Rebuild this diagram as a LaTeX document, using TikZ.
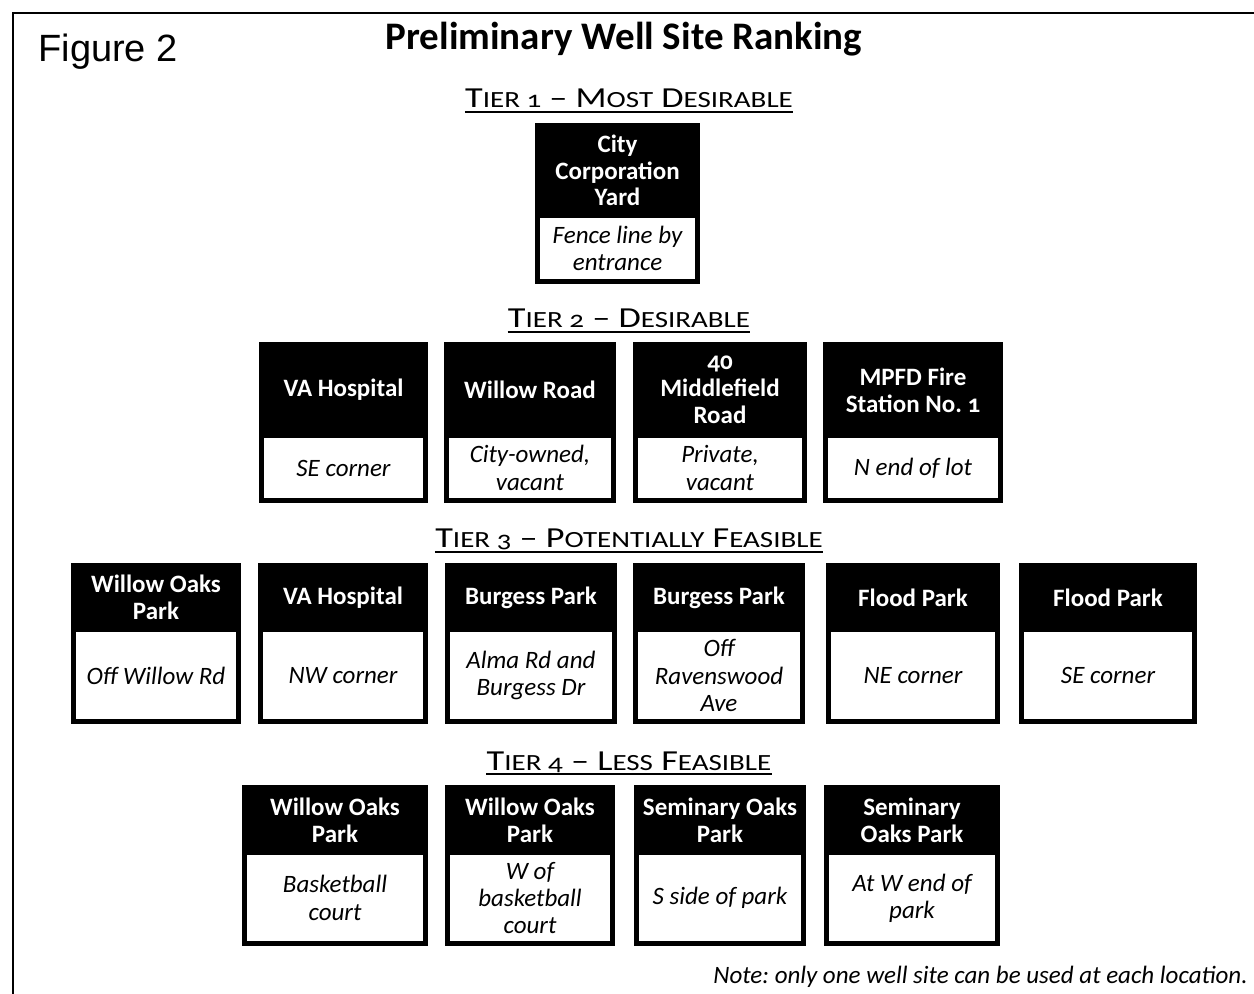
\documentclass[tikz,border=0pt]{standalone}
\usepackage{fontspec}
\usepackage{graphicx}
\setmainfont{Carlito}[Numbers=OldStyle]
\newfontfamily\figfont{Liberation Sans}
\usetikzlibrary{positioning}
\frenchspacing
\newcommand{\sml}[1]{{\fontsize{11.6}{13}\selectfont #1}}
\newcommand{\tiertext}[1]{\scalebox{1.25}[1]{#1}}
\newcommand{\siteblock}[7]{%
  \fill (#2,#4) rectangle (#3,#4+161);
  \fill[white] (#2+5,#5) rectangle (#3-5,#4+156);
  \node[sitehead] (#1h) at ({(#2+#3)/2},{(#4+#5)/2}) {#6};
  \node[sitebody] (#1b) at ({(#2+#3)/2},{(#5+#4+156)/2}) {#7};
}

\begin{document}
\begin{tikzpicture}[x=.5pt,y=-.5pt,
    sitehead/.style={text=white,align=center,inner sep=0pt,
      font=\fontsize{12.5}{13.4}\selectfont\bfseries},
    sitebody/.style={align=center,inner sep=0pt,
      font=\fontsize{12.5}{13.6}\selectfont\itshape},
    tierhead/.style={anchor=base,inner xsep=0pt,
      font=\fontsize{14.5}{16}\selectfont}]
  \useasboundingbox (0,0) rectangle (1254,994);
  \draw[line width=1.25pt] (13,994) -- (13,13) -- (1254,13);
  \node[anchor=base west,inner sep=0pt,font=\figfont\fontsize{19}{22}\selectfont] (fig) at (38,62) {Figure 2};
  \node[anchor=base,inner sep=0pt,font=\fontsize{19.5}{22}\selectfont\bfseries] (title) at (624,50) {Preliminary Well Site Ranking};
  % tier headings
  \node[tierhead] (tier1) at (629,108) {\tiertext{T\sml{IER 1} -- M\sml{OST} D\sml{ESIRABLE}}};
  \node[tierhead] (tier2) at (629,328) {\tiertext{T\sml{IER 2} -- D\sml{ESIRABLE}}};
  \node[tierhead] (tier3) at (629,548) {\tiertext{T\sml{IER 3} -- P\sml{OTENTIALLY} F\sml{EASIBLE}}};
  \node[tierhead] (tier4) at (629,770) {\tiertext{T\sml{IER 4} -- L\sml{ESS} F\sml{EASIBLE}}};
  \foreach \t in {tier1,tier2,tier3,tier4}
    \draw[line width=1pt] ([yshift=-2pt]\t.base west) -- ([yshift=-2pt]\t.base east);
  % tier 1
  \siteblock{city}{535}{700}{123}{218}{City\\Corporation\\Yard}{Fence line by\\entrance}
  % tier 2
  \siteblock{vase}{259}{428}{342}{438}{VA Hospital}{SE corner}
  \siteblock{willow}{444}{616}{342}{438}{Willow Road}{City-owned,\\vacant}
  \siteblock{middle}{633}{807}{342}{438}{40\\Middlefield\\Road}{Private,\\vacant}
  \siteblock{mpfd}{823}{1003}{342}{438}{MPFD Fire\\Station No. 1}{N end of lot}
  % tier 3
  \siteblock{woak}{71}{241}{563}{632}{Willow Oaks\\Park}{Off Willow Rd}
  \siteblock{vanw}{258}{428}{563}{632}{VA Hospital}{NW corner}
  \siteblock{alma}{445}{617}{563}{632}{Burgess Park}{Alma Rd and\\Burgess Dr}
  \siteblock{raven}{633}{805}{563}{632}{Burgess Park}{Off\\Ravenswood\\Ave}
  \siteblock{floodne}{826}{1000}{563}{632}{Flood Park}{NE corner}
  \siteblock{floodse}{1019}{1197}{563}{632}{Flood Park}{SE corner}
  % tier 4
  \siteblock{court}{242}{428}{785}{855}{Willow Oaks\\Park}{Basketball\\court}
  \siteblock{wcourt}{445}{615}{785}{855}{Willow Oaks\\Park}{W of\\basketball\\court}
  \siteblock{sside}{634}{806}{785}{855}{Seminary Oaks\\Park}{S side of park}
  \siteblock{wend}{824}{1000}{785}{855}{Seminary\\Oaks Park}{At W end of\\park}
  \node[anchor=base east,inner sep=0pt,font=\fontsize{12.5}{14}\selectfont\itshape] (note) at (1248,983)
    {Note: only one well site can be used at each location.};
\end{tikzpicture}
\end{document}
